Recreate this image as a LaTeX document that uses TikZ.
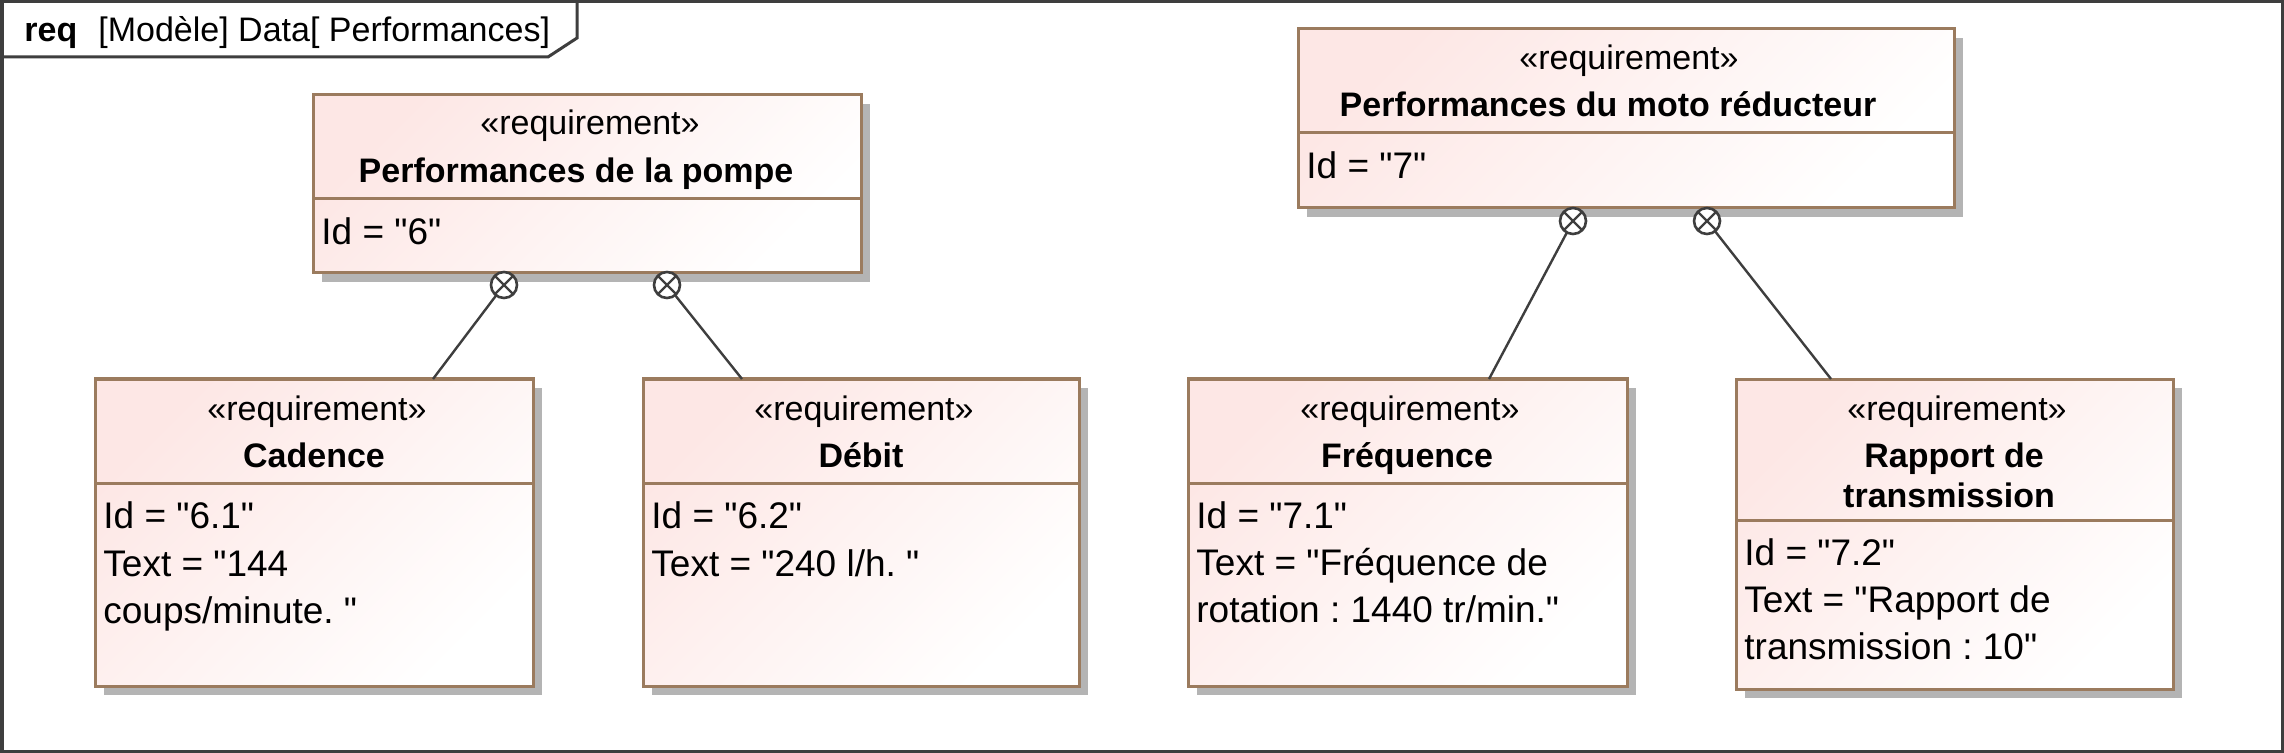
\documentclass[tikz,border=0pt]{standalone}
\usepackage{fontspec}
\setmainfont{Liberation Sans}[Ligatures=TeXOff]
\frenchspacing
\usetikzlibrary{shadows}
\definecolor{reqpink}{RGB}{253,231,229}
\definecolor{reqbrown}{RGB}{155,123,94}
\definecolor{shadowgray}{RGB}{180,180,180}
\definecolor{framegray}{RGB}{62,62,62}
\tikzset{
  reqbox/.style={draw=reqbrown, line width=1.5pt, top color=reqpink, bottom color=white,
    shading angle=45, inner sep=0pt, outer sep=0pt, anchor=north west,
    drop shadow={shadow xshift=4.5pt, shadow yshift=-4.5pt, fill=shadowgray, opacity=1}},
  divider/.style={draw=reqbrown, line width=1.5pt},
  stereo/.style={font=\fontsize{17}{20}\selectfont, anchor=base, inner sep=0pt},
  reqname/.style={font=\bfseries\fontsize{17}{20}\selectfont, anchor=base, inner sep=0pt},
  attr/.style={font=\fontsize{18.5}{22}\selectfont, anchor=base west, inner sep=0pt},
  titletext/.style={font=\fontsize{17}{20}\selectfont, anchor=base west, inner sep=0pt},
  contain/.style={circle, draw=framegray, line width=1.3pt, fill=white, minimum size=13pt, inner sep=0pt, outer sep=0pt},
  link/.style={draw=framegray, line width=1.2pt},
}
\begin{document}
\begin{tikzpicture}[x=0.5pt, y=-0.5pt]
\useasboundingbox (0,0) rectangle (2284,753);
% frame
\draw[framegray, line width=1.75pt, fill=white] (1.75,1.75) rectangle (2282.25,751.25);
\draw[framegray, line width=1.5pt] (1.75,57) -- (548,57) -- (577,38) -- (577,1.75);
\node[titletext, font=\bfseries\fontsize{17}{20}\selectfont] (req) at (24,42) {req};
\node[titletext] (title) at (98,42) {[Modèle] Data[ Performances]};

% boxes
\node[reqbox, minimum width=274pt, minimum height=89pt] (pompe) at (313,95) {};
\node[reqbox, minimum width=328pt, minimum height=89.5pt] (moto) at (1298,29) {};
\node[reqbox, minimum width=219pt, minimum height=153.5pt] (cad) at (95,379) {};
\node[reqbox, minimum width=218pt, minimum height=153.5pt] (deb) at (643,379) {};
\node[reqbox, minimum width=219.5pt, minimum height=153.5pt] (freq) at (1188,379) {};
\node[reqbox, minimum width=218.5pt, minimum height=155pt] (rap) at (1736,379) {};

% dividers
\draw[divider] ([yshift=-52pt]pompe.north west) -- ([yshift=-52pt]pompe.north east);
\draw[divider] ([yshift=-52pt]moto.north west) -- ([yshift=-52pt]moto.north east);
\draw[divider] ([yshift=-52pt]cad.north west) -- ([yshift=-52pt]cad.north east);
\draw[divider] ([yshift=-52pt]deb.north west) -- ([yshift=-52pt]deb.north east);
\draw[divider] ([yshift=-52pt]freq.north west) -- ([yshift=-52pt]freq.north east);
\draw[divider] ([yshift=-70.5pt]rap.north west) -- ([yshift=-70.5pt]rap.north east);

% texts: pompe
\node[stereo] (pompe-st) at (590,135) {«requirement»};
\node[reqname] (pompe-nm) at (576,183) {Performances de la pompe};
\node[attr] (pompe-id) at (321,245) {Id = "6"};
% moto
\node[stereo] (moto-st) at (1629,70) {«requirement»};
\node[reqname] (moto-nm) at (1608,117) {Performances du moto réducteur};
\node[attr] (moto-id) at (1306,179) {Id = "7"};
% cadence
\node[stereo] (cad-st) at (317,420) {«requirement»};
\node[reqname] (cad-nm) at (314,467) {Cadence};
\node[attr] (cad-a1) at (103,528) {Id = "6.1"};
\node[attr] (cad-a2) at (103,576) {Text = "144};
\node[attr] (cad-a3) at (103,623) {coups/minute. "};
% debit
\node[stereo] (deb-st) at (864,420) {«requirement»};
\node[reqname] (deb-nm) at (861,467) {Débit};
\node[attr] (deb-a1) at (651,528) {Id = "6.2"};
\node[attr] (deb-a2) at (651,576) {Text = "240 l/h. "};
% frequence
\node[stereo] (freq-st) at (1410,420) {«requirement»};
\node[reqname] (freq-nm) at (1407,467) {Fréquence};
\node[attr] (freq-a1) at (1196,528) {Id = "7.1"};
\node[attr] (freq-a2) at (1196,575) {Text = "Fréquence de};
\node[attr] (freq-a3) at (1196,622) {rotation : 1440 tr/min."};
% rapport
\node[stereo] (rap-st) at (1957,420) {«requirement»};
\node[reqname] (rap-nm1) at (1954,467) {Rapport de};
\node[reqname] (rap-nm2) at (1949,507) {transmission};
\node[attr] (rap-a1) at (1744,565) {Id = "7.2"};
\node[attr] (rap-a2) at (1744,612) {Text = "Rapport de};
\node[attr] (rap-a3) at (1744,659) {transmission : 10"};

% containment circles
\node[contain] (c1) at (504,285) {};
\node[contain] (c2) at (667,285) {};
\node[contain] (c3) at (1573,221) {};
\node[contain] (c4) at (1707,221) {};
\foreach \c in {c1,c2,c3,c4}{
  \draw[link, line width=1.1pt] (\c.north west) -- (\c.south east) (\c.north east) -- (\c.south west);
}

% connectors
\draw[link] (c1) -- ([xshift=59.5pt]cad.north);
\draw[link] (c2) -- ([xshift=-59.5pt]deb.north);
\draw[link] (c3) -- ([xshift=40.75pt]freq.north);
\draw[link] (c4) -- ([xshift=-61.75pt]rap.north);
\end{tikzpicture}
\end{document}
